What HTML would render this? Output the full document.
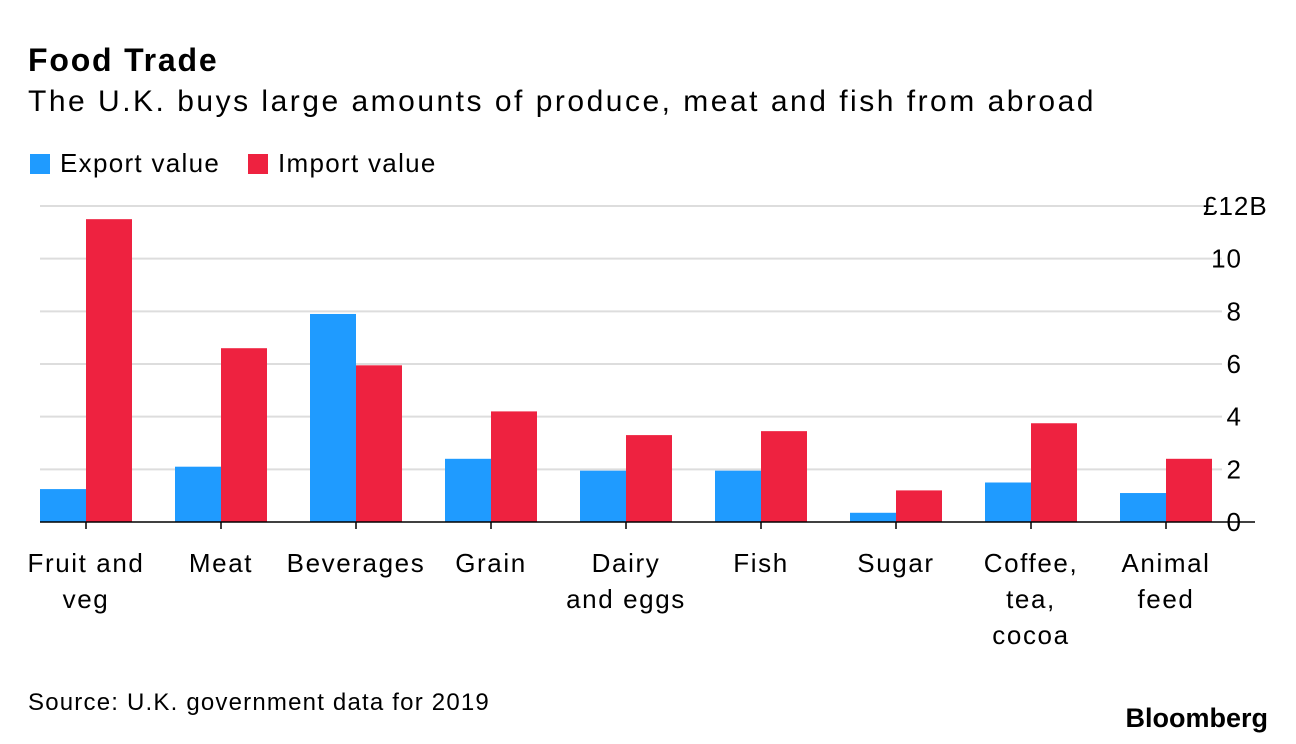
<!DOCTYPE html>
<html><head><meta charset="utf-8"><style>
body{margin:0;background:#fff;font-family:"Liberation Sans",Arial,sans-serif;color:#000}
#wrap{position:relative;width:1296px;height:744px;overflow:hidden}
.t{position:absolute;white-space:nowrap}
</style></head><body>
<div id="wrap">
<div class="t" style="left:28px;top:42px;font-size:32px;font-weight:bold;letter-spacing:1.8px">Food Trade</div>
<div class="t" style="left:28px;top:85px;font-size:30px;letter-spacing:2.5px">The U.K. buys large amounts of produce, meat and fish from abroad</div>
<div class="t" style="left:30px;top:148px;font-size:26px;letter-spacing:1.3px"><span style="display:inline-block;width:20px;height:20px;background:#1f9bff;vertical-align:-2px;margin-right:10px"></span>Export value</div>
<div class="t" style="left:248px;top:148px;font-size:26px;letter-spacing:1.3px"><span style="display:inline-block;width:20px;height:20px;background:#ee2240;vertical-align:-2px;margin-right:10px"></span>Import value</div>
<svg id="chart" width="1296" height="744" style="position:absolute;left:0;top:0"></svg>
<div class="t" style="left:28px;top:689px;font-size:24px;letter-spacing:1.2px">Source: U.K. government data for 2019</div>
<div class="t" style="right:28px;top:703px;font-size:27px;font-weight:bold;letter-spacing:0px">Bloomberg</div>
</div>
<script>
const categories=[["Fruit and","veg"],["Meat"],["Beverages"],["Grain"],["Dairy","and eggs"],["Fish"],["Sugar"],["Coffee,","tea,","cocoa"],["Animal","feed"]];
const exportValues=[1.25,2.1,7.9,2.4,1.95,1.95,0.35,1.5,1.1];
const importValues=[11.5,6.6,5.95,4.2,3.3,3.45,1.2,3.75,2.4];
const yTicks=[0,2,4,6,8,10,12];
const yTickLabels=["0","2","4","6","8","10","£12B"];
const NS="http://www.w3.org/2000/svg";
const svg=document.getElementById('chart');
const y=v=>522-v*(316/12);
const xc=i=>86+i*135;
const bw=46;
function mk(tag,attrs){const e=document.createElementNS(NS,tag);for(const k in attrs)e.setAttribute(k,attrs[k]);svg.appendChild(e);return e;}
yTicks.forEach((v,i)=>{
  if(v>0){const g=mk('line',{x1:40,x2:v===12?1205:1222,y1:y(v),y2:y(v),stroke:'#ddd','stroke-width':2});
  
  }
  const t=mk('text',{x:v===12?1203:1242,y:y(v)+9,'font-size':26,'letter-spacing':1,'text-anchor':v===12?'start':'end','font-family':'Liberation Sans, Arial, sans-serif'});
  t.textContent=yTickLabels[i];
  
  
});
categories.forEach((c,i)=>{
  const e=mk('rect',{x:xc(i)-bw,y:y(exportValues[i]),width:bw,height:522-y(exportValues[i]),fill:'#1f9bff'});
  
  
  const r=mk('rect',{x:xc(i),y:y(importValues[i]),width:bw,height:522-y(importValues[i]),fill:'#ee2240'});
  
  
  const tk=mk('line',{x1:xc(i),x2:xc(i),y1:522,y2:529,stroke:'#000','stroke-width':1.5});
  
  
  c.forEach((ln,j)=>{
    const t=mk('text',{x:xc(i),y:572+j*36,'font-size':26,'letter-spacing':1.6,'text-anchor':'middle','font-family':'Liberation Sans, Arial, sans-serif'});
    t.textContent=ln;
    
    
  });
});
const base=mk('line',{x1:40,x2:1255,y1:522,y2:522,stroke:'#000','stroke-width':1.5});


</script>
</body></html>
